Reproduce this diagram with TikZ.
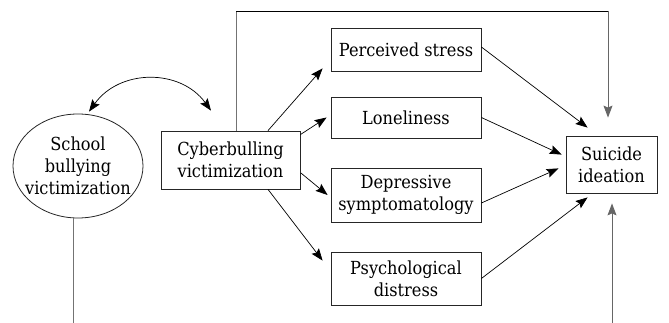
\documentclass[tikz,border=0pt]{standalone}
\usepackage{fontspec}
\setmainfont{DejaVu Serif}[FakeStretch=0.9]
\usetikzlibrary{arrows.meta,shapes.geometric}
\begin{document}
\begin{tikzpicture}[x=1pt,y=1pt,
  every node/.style={font=\fontsize{18}{22}\selectfont, align=center, inner sep=0pt},
  varbox/.style={draw=black!85, line width=0.8pt, rectangle},
  latent/.style={draw=black!85, line width=0.8pt, ellipse, inner xsep=-12pt},
  arr/.style={draw=black, line width=0.7pt, -{Stealth[length=12pt,width=9pt,inset=2pt]}},
  vline/.style={draw=black!55, line width=1pt},
  hline/.style={draw=black, line width=0.8pt},
]
\useasboundingbox (0,0) rectangle (669,323);
\coordinate (bot) at (0,0);
\coordinate (topc) at (0,312);

\node[latent, minimum width=130pt, minimum height=104pt] (school) at (78,157) {School\\bullying\\victimization};
\node[varbox, minimum width=139pt, minimum height=58pt] (cyber) at (230.5,163) {Cyberbulling\\victimization};

\node[varbox, minimum width=150pt, minimum height=43pt] (ps) at (406,273.5) {Perceived stress};
\node[varbox, minimum width=150pt, minimum height=41pt] (lon) at (406,205.5) {Loneliness};
\node[varbox, minimum width=150pt, minimum height=54pt] (dep) at (406,128) {Depressive\\symptomatology};
\node[varbox, minimum width=150pt, minimum height=53pt] (psy) at (406,44.5) {Psychological\\distress};

\node[varbox, minimum width=91pt, minimum height=57pt] (sui) at (611.5,158.5) {Suicide\\ideation};

% covariance curve
\draw[line width=0.7pt, {Stealth[length=12pt,width=9pt,inset=2pt]}-{Stealth[length=12pt,width=9pt,inset=2pt]}]
  ([xshift=11pt,yshift=2pt]school.north) .. controls ([xshift=42pt,yshift=45pt]school.north) and ([xshift=-50pt,yshift=62pt]cyber.north) .. ([xshift=-19.5pt,yshift=20pt]cyber.north);

% cyber to mediators
\draw[arr] ([xshift=37.5pt]cyber.north) -- ([xshift=-8pt,yshift=3pt]ps.south west);
\draw[arr] ([yshift=-4pt]cyber.north east) -- ([xshift=-4pt]lon.west);
\draw[arr] ([xshift=0.5pt,yshift=-13pt]cyber.east) -- ([xshift=-3pt]dep.west);
\draw[arr] ([xshift=37.5pt]cyber.south) -- ([xshift=-8pt,yshift=-9pt]psy.north west);

% mediators to suicide
\draw[arr] ([yshift=2.5pt]ps.east) -- ([xshift=22pt,yshift=8pt]sui.north west);
\draw[arr] (lon.east) -- ([xshift=-4pt,yshift=-19pt]sui.north west);
\draw[arr] ([yshift=-8pt]dep.east) -- ([xshift=-7pt,yshift=25pt]sui.south west);
\draw[arr] (psy.east) -- ([xshift=22pt,yshift=-4pt]sui.south west);

% direct path over the top
\coordinate (tl) at ([xshift=5.5pt]cyber.north |- topc);
\coordinate (tr) at ([xshift=-3.5pt]sui.north |- topc);
\draw[vline] ([xshift=5.5pt]cyber.north) -- (tl);
\draw[hline] (tl) -- (tr);
\draw[arr, draw=black!60, line width=1pt] (tr) -- ([xshift=-3.5pt,yshift=18pt]sui.north);

% lines from the bottom
\draw[vline] (school.-95) -- (school.-95 |- bot);
\draw[arr, draw=black!60, line width=1pt] ([xshift=0.5pt]sui.south |- bot) -- ([xshift=0.5pt,yshift=-10pt]sui.south);
\end{tikzpicture}
\end{document}
